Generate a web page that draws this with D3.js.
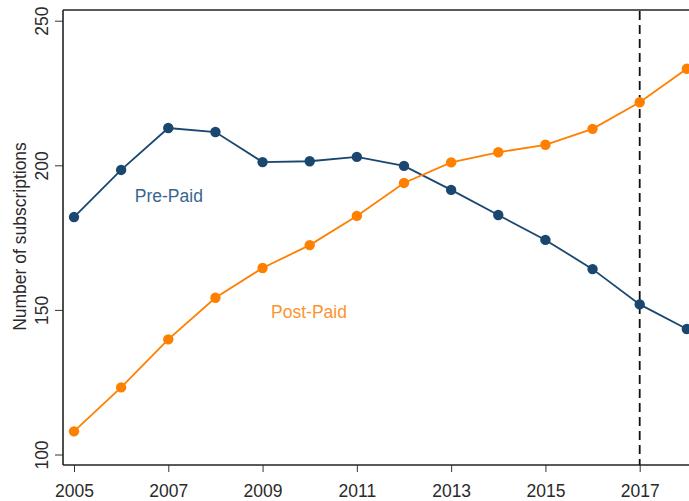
<!DOCTYPE html>
<html><head><meta charset="utf-8">
<script src="https://cdn.jsdelivr.net/npm/d3@7"></script>
<style>body{margin:0;background:#fff}svg{display:block}text{font-family:"Liberation Sans",Arial,Helvetica,sans-serif}</style>
</head><body><svg id="c" width="689" height="501"></svg>
<script>
const years = [2005,2006,2007,2008,2009,2010,2011,2012,2013,2014,2015,2016,2017,2018];
const prePaid = [182.1,198.4,212.9,211.5,201.1,201.4,202.9,199.8,191.5,182.8,174.2,164.1,151.9,143.4];
const postPaid = [108.0,123.2,139.8,154.2,164.5,172.4,182.5,193.9,201.0,204.5,207.1,212.6,221.8,233.4];
const xTicks = [2005,2007,2009,2011,2013,2015,2017];
const yTicks = [100,150,200,250];
const markerYear = 2017;

(function(){
const svg = d3.select("#c");
const x = d3.scaleLinear().domain([2005,2017]).range([74,639.7]);
const y = d3.scaleLinear().domain([100,250]).range([454.5,20.7]);
const pL = 63, pT = 10, pB = 465, pR = 689;
const fs = "17.5px";

svg.append("line").attr("x1",pL).attr("x2",pR).attr("y1",pT).attr("y2",pT).attr("stroke","#222").attr("stroke-width",1.4);

const xAxis = svg.append("g").attr("transform",`translate(0,${pB})`)
  .call(d3.axisBottom(x).tickValues(xTicks).tickFormat(d3.format("d")).tickSizeOuter(0).tickSize(7).tickPadding(13));
xAxis.select(".domain").attr("d",`M${pL},0H${pR}`).attr("stroke","#222").attr("stroke-width",1.6);
xAxis.selectAll(".tick line").attr("stroke","#333").attr("stroke-width",1);
xAxis.selectAll(".tick text").attr("font-size",fs).attr("fill","#2a2a2a").attr("font-family","Liberation Sans, Arial, sans-serif");

const yAxis = svg.append("g").attr("transform",`translate(${pL},0)`)
  .call(d3.axisLeft(y).tickValues(yTicks).tickSizeOuter(0).tickSize(8));
yAxis.select(".domain").attr("d",`M0,${pT}V${pB}`).attr("stroke","#222").attr("stroke-width",1.6);
yAxis.selectAll(".tick line").attr("stroke","#333").attr("stroke-width",1);
yAxis.selectAll(".tick text")
  .attr("font-size",fs).attr("fill","#2a2a2a").attr("font-family","Liberation Sans, Arial, sans-serif")
  .attr("x",null).attr("dy",null).attr("text-anchor","middle")
  .attr("transform","translate(-15,0) rotate(-90)");

svg.append("text").attr("transform",`translate(26,${(pT+pB)/2 - 1}) rotate(-90)`)
  .attr("text-anchor","middle").attr("font-size",fs).attr("fill","#2a2a2a").text("Number of subscriptions");

svg.append("line").attr("x1",x(markerYear)).attr("x2",x(markerYear)).attr("y1",pT+1).attr("y2",pB)
  .attr("stroke","#111").attr("stroke-width",1.8).attr("stroke-dasharray","9,5");

const line = d3.line().x((d,i)=>x(years[i])).y(d=>y(d));
const series = [
  {vals:prePaid, color:"#1a476f", label:"Pre-Paid", lx:2006.29, ly:202, tcolor:"#3a6590"},
  {vals:postPaid, color:"#ff8000", label:"Post-Paid", lx:2009.18, ly:318, tcolor:"#fb9430"}
];
const g = svg.append("g");
series.forEach(s=>{
  g.append("path").datum(s.vals).attr("d",line).attr("fill","none").attr("stroke",s.color).attr("stroke-width",1.8);
  g.selectAll(null).data(s.vals).enter().append("circle")
    .attr("cx",(d,i)=>x(years[i])).attr("cy",d=>y(d)).attr("r",5.2).attr("fill",s.color);
  svg.append("text").attr("x",x(s.lx)).attr("y",s.ly).attr("font-size",fs).attr("fill",s.tcolor).text(s.label);
});
})();
</script></body></html>
